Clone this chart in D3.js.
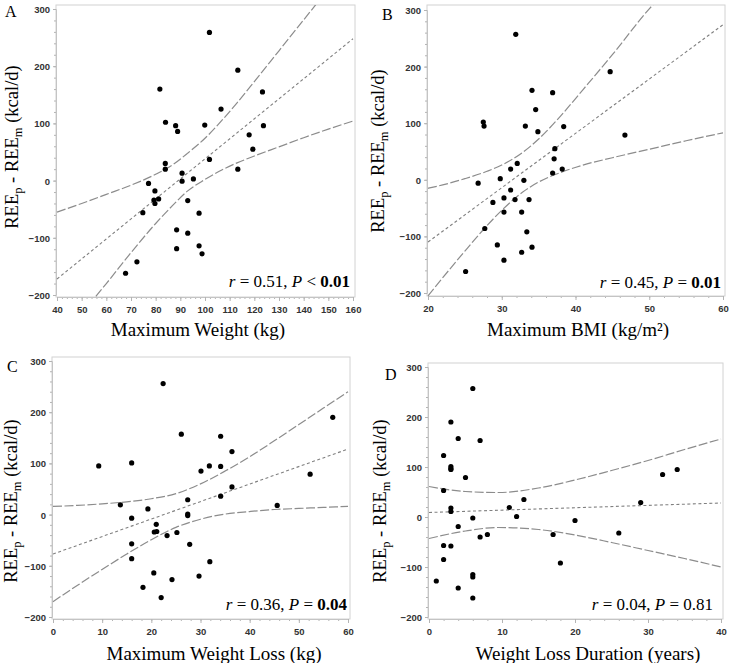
<!DOCTYPE html>
<html>
<head>
<meta charset="utf-8">
<script src="https://cdn.jsdelivr.net/npm/d3@7"></script>
<style>
body { margin: 0; background: #fff; }
svg { display: block; }
</style>
</head>
<body>
<div id="chart"></div>
<script>
// y axis is the same on all four panels
const yTicks = [-200, -100, 0, 100, 200, 300];

// A - maximum weight (kg)
const ticksA = [40, 50, 60, 70, 80, 90, 100, 110, 120, 130, 140, 150, 160];
const weightA = [101.8, 113.3, 81.7, 123.3, 106.5, 84, 88.1, 99.9, 88.9, 123.7, 117.9, 119.4, 101.8, 83.9, 83.9, 113.3, 90.7,
  90.7, 95.3, 77.1, 79.7, 79.3, 79.7, 81.2, 74.8, 93, 97.6, 88.5, 93, 88.5, 97.6, 98.8, 72.4, 67.8];
const reeA = [259, 193, 160, 155, 125, 102, 96, 97, 86, 96, 80, 55, 37, 30, 20, 20, 13,
  -1, 3, -5, -18, -34, -40, -32, -56, -35, -57, -86, -92, -119, -114, -128, -142, -162];
const fitA = [[40, -172], [160, 248]];
const upperA = [[40, -55], [50, -40], [60, -24], [70, -8], [80, 11], [87, 28], [93, 48], [100, 74], [107, 106],
  [113, 136], [120, 173], [130, 227], [140, 281], [150, 335]];
const lowerA = [[50, -234], [56, -201], [60, -180], [70, -126], [80, -75], [87, -43], [93, -18], [100, 2], [107, 19],
  [113, 31], [120, 43], [130, 59], [140, 75], [150, 90], [160, 104]];

// B - maximum BMI
const ticksB = [20, 30, 40, 50, 60];
const bmiB = [31.9, 44.7, 34.1, 36.9, 34.6, 27.5, 27.6, 33.2, 38.4, 34.9, 46.7, 37.2, 37.1, 32.1, 31.2, 38.2, 36.9,
  29.8, 33, 26.8, 31.2, 28.8, 30.3, 31.8, 33.7, 30.3, 32.7, 27.7, 33.4, 29.4, 34.1, 32.7, 30.3, 25.1];
const reeB = [257, 191, 158, 154, 124, 102, 95, 95, 94, 85, 79, 55, 37, 29, 19, 19, 12,
  2, -1, -6, -18, -40, -32, -35, -35, -57, -57, -86, -92, -115, -119, -128, -142, -162];
const fitB = [[20, -110], [60, 274]];
const upperB = [[20, -15], [22, -9], [25, 2], [28, 15], [30, 26], [32.8, 48], [35, 72], [38, 113], [41, 159],
  [45, 221], [50, 302], [52, 330]];
const lowerB = [[20, -205], [22, -173], [25, -126], [28, -81], [30, -54], [32.8, -22], [35, -4], [38, 13], [41, 26],
  [45, 39], [50, 54], [55, 69], [60, 83]];

// C - maximum weight loss (kg)
const ticksC = [0, 10, 20, 30, 40, 50, 60];
const lossC = [22.4, 56.9, 26.1, 34.1, 36.4, 16, 9.3, 31.8, 34.1, 30.1, 52.3, 36.4, 34.1, 27.4, 13.7, 45.6, 19.3,
  27.4, 27.4, 16, 21, 20.6, 21.1, 23.2, 25.2, 27.8, 16, 16, 31.9, 20.5, 29.7, 24.2, 18.3, 22];
const reeC = [256, 190, 157, 153, 123, 101, 95, 95, 94, 85, 79, 54, 36, 29, 19, 18, 11,
  1, -2, -7, -19, -34, -33, -41, -35, -58, -57, -86, -92, -114, -120, -127, -142, -162];
const fitC = [[0, -77], [60, 128]];
const upperC = [[0, 16], [5, 18], [10, 21], [15, 25], [20, 31], [25, 41], [30, 60], [35, 85], [40, 113],
  [45, 144], [50, 176], [55, 208], [60, 240]];
const lowerC = [[0, -170], [5, -138], [10, -107], [15, -77], [20, -49], [25, -25], [30, -9], [35, 1], [40, 6],
  [45, 10], [50, 12], [55, 14], [60, 16]];

// D - weight loss duration (years)
const ticksD = [0, 10, 20, 30, 40];
const yearsD = [6, 3, 4, 7, 2, 3, 3, 3, 32, 34, 5, 2, 13, 29, 11, 3, 3,
  12, 6, 20, 4, 26, 17, 8, 7, 2, 3, 2, 18, 6, 6, 1, 4, 6];
const reeD = [257, 190, 157, 153, 123, 101, 97, 95, 85, 95, 79, 53, 35, 29, 19, 18, 11,
  1, -2, -7, -19, -32, -35, -35, -40, -57, -58, -85, -92, -115, -120, -128, -142, -162];
const fitD = [[0, 9], [40, 28]];
const upperD = [[0, 61], [5, 51], [9.5, 49], [15, 58], [20, 74], [25, 93], [30, 113], [35, 135], [40, 156]];
const lowerD = [[0, -43], [5, -28], [9.5, -21], [15, -25], [20, -36], [25, -51], [30, -67], [35, -83], [40, -100]];

const SERIF = "'Liberation Serif', 'Times New Roman', serif";
const SANS = "'Liberation Sans', Arial, sans-serif";

const svg = d3.select("#chart")
  .append("svg")
    .attr("width", 731)
    .attr("height", 663);

const panels = [
  { id: "A", xs: weightA, ys: reeA, ticks: ticksA, fit: fitA, upper: upperA, lower: lowerA,
    xRange: [57, 353], yRange: [295, 9], frame: { l: 56, r: 355, t: 5, b: 297 },
    letter: [5, 17], yTitle: [18, 147], xTitle: [198, 336], title: "Maximum Weight (kg)",
    stat: { x: 350, y: 287, r: "0.51", op: "<", p: "0.01", bold: true } },
  { id: "B", xs: bmiB, ys: reeB, ticks: ticksB, fit: fitB, upper: upperB, lower: lowerB,
    xRange: [428, 723], yRange: [293, 10], frame: { l: 427, r: 725, t: 5, b: 296 },
    letter: [382, 20], yTitle: [384, 151], xTitle: [578, 336], title: "Maximum BMI (kg/m²)",
    stat: { x: 721, y: 288, r: "0.45", op: "=", p: "0.01", bold: true } },
  { id: "C", xs: lossC, ys: reeC, ticks: ticksC, fit: fitC, upper: upperC, lower: lowerC,
    xRange: [53, 348], yRange: [617, 361], frame: { l: 52, r: 350, t: 357, b: 619 },
    letter: [7, 372], yTitle: [17, 501], xTitle: [214, 660], title: "Maximum Weight Loss (kg)",
    stat: { x: 347, y: 610, r: "0.36", op: "=", p: "0.04", bold: true } },
  { id: "D", xs: yearsD, ys: reeD, ticks: ticksD, fit: fitD, upper: upperD, lower: lowerD,
    xRange: [429, 721], yRange: [617, 367], frame: { l: 428, r: 723, t: 363, b: 619 },
    letter: [385, 380], yTitle: [386, 501], xTitle: [588, 660], title: "Weight Loss Duration (years)",
    stat: { x: 713, y: 610, r: "0.04", op: "=", p: "0.81", bold: false } }
];

panels.forEach(p => {
  const ticks = p.ticks;
  const x = d3.scaleLinear()
    .domain([ticks[0], ticks[ticks.length - 1]])
    .range(p.xRange);
  const y = d3.scaleLinear()
    .domain([yTicks[0], yTicks[yTicks.length - 1]])
    .range(p.yRange);
  const f = p.frame;

  svg.append("clipPath")
      .attr("id", "clip" + p.id)
    .append("rect")
      .attr("x", f.l)
      .attr("y", f.t)
      .attr("width", f.r - f.l)
      .attr("height", f.b - f.t);

  const g = svg.append("g");

  // light frame round the plot
  g.append("rect")
    .attr("x", f.l)
    .attr("y", f.t)
    .attr("width", f.r - f.l)
    .attr("height", f.b - f.t)
    .attr("fill", "none")
    .attr("stroke", "#d2d2d2");

  // minor ticks, 5 per major step
  const xStep = (ticks[1] - ticks[0]) / 5;
  const xMinor = d3.range(ticks[0], ticks[ticks.length - 1] + xStep / 2, xStep);
  const yMinor = d3.range(-200, 300 + 10, 20);

  g.append("g")
    .attr("transform", `translate(0, ${f.b})`)
    .call(d3.axisBottom(x).tickValues(xMinor).tickSize(2).tickSizeOuter(0).tickFormat(""));
  const xAxis = g.append("g")
    .attr("transform", `translate(0, ${f.b})`)
    .call(d3.axisBottom(x).tickValues(ticks).tickSize(4).tickSizeOuter(0).tickPadding(5));

  g.append("g")
    .attr("transform", `translate(${f.l}, 0)`)
    .call(d3.axisLeft(y).tickValues(yMinor).tickSize(2).tickSizeOuter(0).tickFormat(""));
  const yAxis = g.append("g")
    .attr("transform", `translate(${f.l}, 0)`)
    .call(d3.axisLeft(y).tickValues(yTicks).tickSize(3).tickSizeOuter(0).tickPadding(3));

  g.selectAll(".domain").attr("stroke", "#c4c4c4");
  g.selectAll(".tick line").attr("stroke", "#b4b4b4");
  [xAxis, yAxis].forEach(a => a.selectAll("text")
    .attr("fill", "#333")
    .style("font", `bold 9.5px ${SANS}`));
  yAxis.selectAll("text").attr("dy", "0.36em");

  // regression line and confidence band
  const line = d3.line()
    .x(d => x(d[0]))
    .y(d => y(d[1]))
    .curve(d3.curveMonotoneX);
  const lines = g.append("g").attr("clip-path", `url(#clip${p.id})`);
  lines.append("path")
    .attr("d", line(p.fit))
    .attr("fill", "none")
    .attr("stroke", "#808080")
    .attr("stroke-width", 1.1)
    .attr("stroke-dasharray", "3,2.5");
  [p.upper, p.lower].forEach(band => lines.append("path")
    .attr("d", line(band))
    .attr("fill", "none")
    .attr("stroke", "#8c8c8c")
    .attr("stroke-width", 1.2)
    .attr("stroke-dasharray", "9,2.5"));

  // points
  g.append("g").selectAll("circle")
    .data(p.xs.map((v, i) => [v, p.ys[i]]))
    .enter().append("circle")
      .attr("cx", d => x(d[0]))
      .attr("cy", d => y(d[1]))
      .attr("r", 2.6)
      .attr("fill", "#000");

  // r and P
  const stat = g.append("text")
    .attr("x", p.stat.x)
    .attr("y", p.stat.y)
    .attr("text-anchor", "end")
    .style("font", `17px ${SERIF}`);
  stat.append("tspan").style("font-style", "italic").text("r");
  stat.append("tspan").text(` = ${p.stat.r}, `);
  stat.append("tspan").style("font-style", "italic").text("P");
  stat.append("tspan").text(` ${p.stat.op} `);
  stat.append("tspan").style("font-weight", p.stat.bold ? "bold" : "normal").text(p.stat.p);

  // panel letter
  g.append("text")
    .attr("x", p.letter[0])
    .attr("y", p.letter[1])
    .style("font", `16px ${SERIF}`)
    .text(p.id);

  // x title
  g.append("text")
    .attr("x", p.xTitle[0])
    .attr("y", p.xTitle[1])
    .attr("text-anchor", "middle")
    .style("font", `19px ${SERIF}`)
    .text(p.title);

  // y title with subscripts
  const yt = g.append("text")
    .attr("transform", `translate(${p.yTitle[0]}, ${p.yTitle[1]}) rotate(-90)`)
    .attr("text-anchor", "middle")
    .style("font", `18.5px ${SERIF}`);
  yt.append("tspan").text("REE");
  yt.append("tspan").attr("dy", 4).style("font-size", "12.5px").text("p");
  yt.append("tspan").attr("dy", -4).text(" - REE");
  yt.append("tspan").attr("dy", 4).style("font-size", "12.5px").text("m");
  yt.append("tspan").attr("dy", -4).text(" (kcal/d)");
});
</script>
</body>
</html>
